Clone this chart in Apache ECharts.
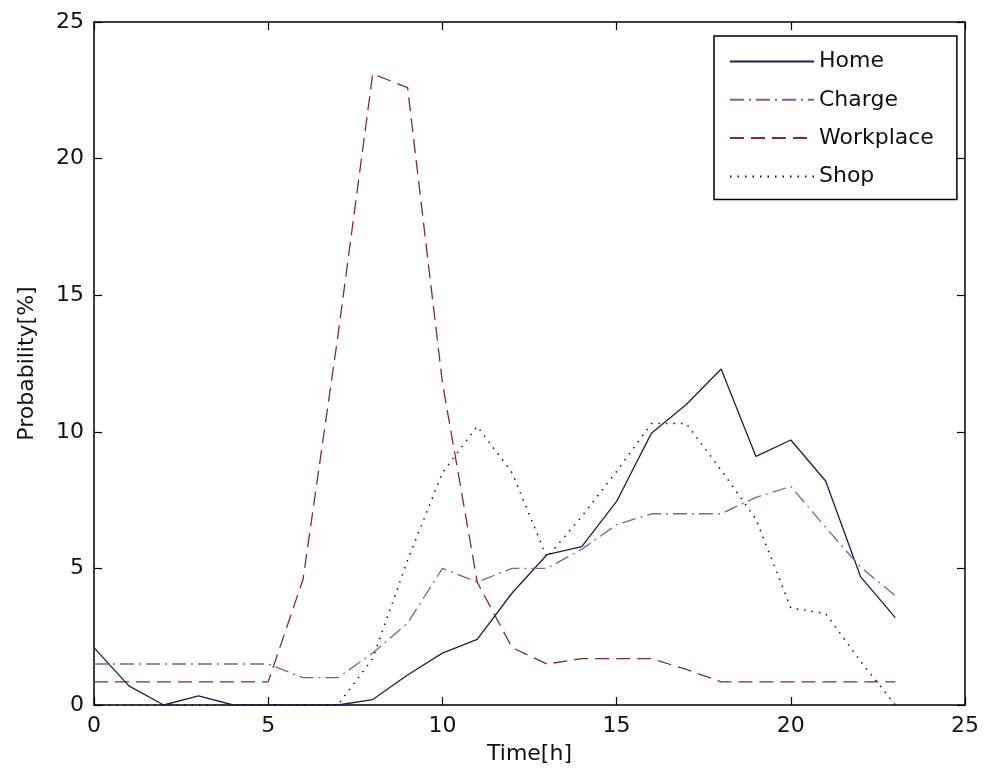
<!DOCTYPE html>
<html>
<head>
<meta charset="utf-8">
<script src="https://cdn.jsdelivr.net/npm/echarts@6/dist/echarts.min.js"></script>
<style>
html,body{margin:0;padding:0;background:#fff;}
#chart{width:985px;height:781px;}
</style>
</head>
<body>
<div id="chart"></div>
<script>
const hours = [0,1,2,3,4,5,6,7,8,9,10,11,12,13,14,15,16,17,18,19,20,21,22,23];
const home      = [2.1,0.7,0,0.33,0,0,0,0,0.2,1.1,1.9,2.4,4.1,5.5,5.8,7.45,9.95,11.0,12.3,9.1,9.7,8.2,4.7,3.2];
const charge    = [1.5,1.5,1.5,1.5,1.5,1.5,1.0,1.0,1.9,3.0,5.0,4.5,5.0,5.0,5.7,6.6,7.0,7.0,7.0,7.6,8.0,6.5,5.05,4.0];
const workplace = [0.85,0.85,0.85,0.85,0.85,0.85,4.6,13.5,23.1,22.6,11.8,4.5,2.1,1.5,1.7,1.7,1.7,1.3,0.85,0.85,0.85,0.85,0.85,0.85];
const shop      = [0,0,0,0,0,0,0,0,1.7,5.3,8.5,10.2,8.5,5.4,6.9,8.55,10.3,10.3,8.6,6.8,3.55,3.35,1.6,0];
const seriesNames = ['Home','Charge','Workplace','Shop'];
const xTicks = [0,5,10,15,20,25];
const yTicks = [0,5,10,15,20,25];

const font = 'DejaVu Sans, Liberation Sans, sans-serif';
const chart = echarts.init(document.getElementById('chart'), null, {renderer:'canvas'});

function pairs(arr){ return hours.map((h,i)=>[h,arr[i]]); }

const axisCommon = {
  axisLine:{show:true,onZero:false,lineStyle:{color:'#000',width:1.5}},
  axisTick:{show:true,inside:true,length:8,lineStyle:{color:'#000',width:1.2}},
  splitLine:{show:false}
};

chart.setOption({
  backgroundColor:'#fff',
  animation:false,
  grid:{left:94,right:20,top:22,bottom:76,containLabel:false},
  xAxis:[
    Object.assign({type:'value',min:0,max:25,interval:5,position:'bottom',
      name:'Time[h]',nameLocation:'middle',nameGap:38,
      nameTextStyle:{color:'#111',fontFamily:font,fontSize:22},
      axisLabel:{color:'#111',fontFamily:font,fontSize:22,margin:10,
        formatter:v=>xTicks.indexOf(v)>=0?String(v):''}},axisCommon),
    Object.assign({type:'value',min:0,max:25,interval:5,position:'top',
      axisLabel:{show:false}},axisCommon)
  ],
  yAxis:[
    Object.assign({type:'value',min:0,max:25,interval:5,position:'left',
      name:'Probability[%]',nameLocation:'middle',nameGap:56,
      nameTextStyle:{color:'#111',fontFamily:font,fontSize:22},
      axisLabel:{color:'#111',fontFamily:font,fontSize:22,margin:10,
        formatter:v=>yTicks.indexOf(v)>=0?String(v):''}},axisCommon),
    Object.assign({type:'value',min:0,max:25,interval:5,position:'right',
      axisLabel:{show:false}},axisCommon)
  ],
  legend:{
    show:true,
    data:seriesNames,
    orient:'vertical',
    left:714,top:36,
    itemWidth:84,itemHeight:14,itemGap:16.3,
    padding:[14.5,23,12,15],
    borderColor:'#000',borderWidth:1.5,backgroundColor:'#fff',
    itemStyle:{opacity:0,borderWidth:0},
    textStyle:{color:'#111',fontFamily:font,fontSize:22}
  },
  series:[
    {name:'Home',type:'line',data:pairs(home),symbol:'none',
      lineStyle:{color:'#1e1e4e',width:1.3,type:'solid'},itemStyle:{color:'#1e1e4e'}},
    {name:'Charge',type:'line',data:pairs(charge),symbol:'none',
      lineStyle:{color:'#8e5a94',width:1.3,type:[14,5,2,5]},itemStyle:{color:'#8e5a94'}},
    {name:'Workplace',type:'line',data:pairs(workplace),symbol:'none',
      lineStyle:{color:'#7e2e2e',width:1.3,type:[14,7]},itemStyle:{color:'#7e2e2e'}},
    {name:'Shop',type:'line',data:pairs(shop),symbol:'none',
      lineStyle:{color:'#111',width:1.5,type:[1.5,6]},itemStyle:{color:'#111'}}
  ]
});
</script>
</body>
</html>
